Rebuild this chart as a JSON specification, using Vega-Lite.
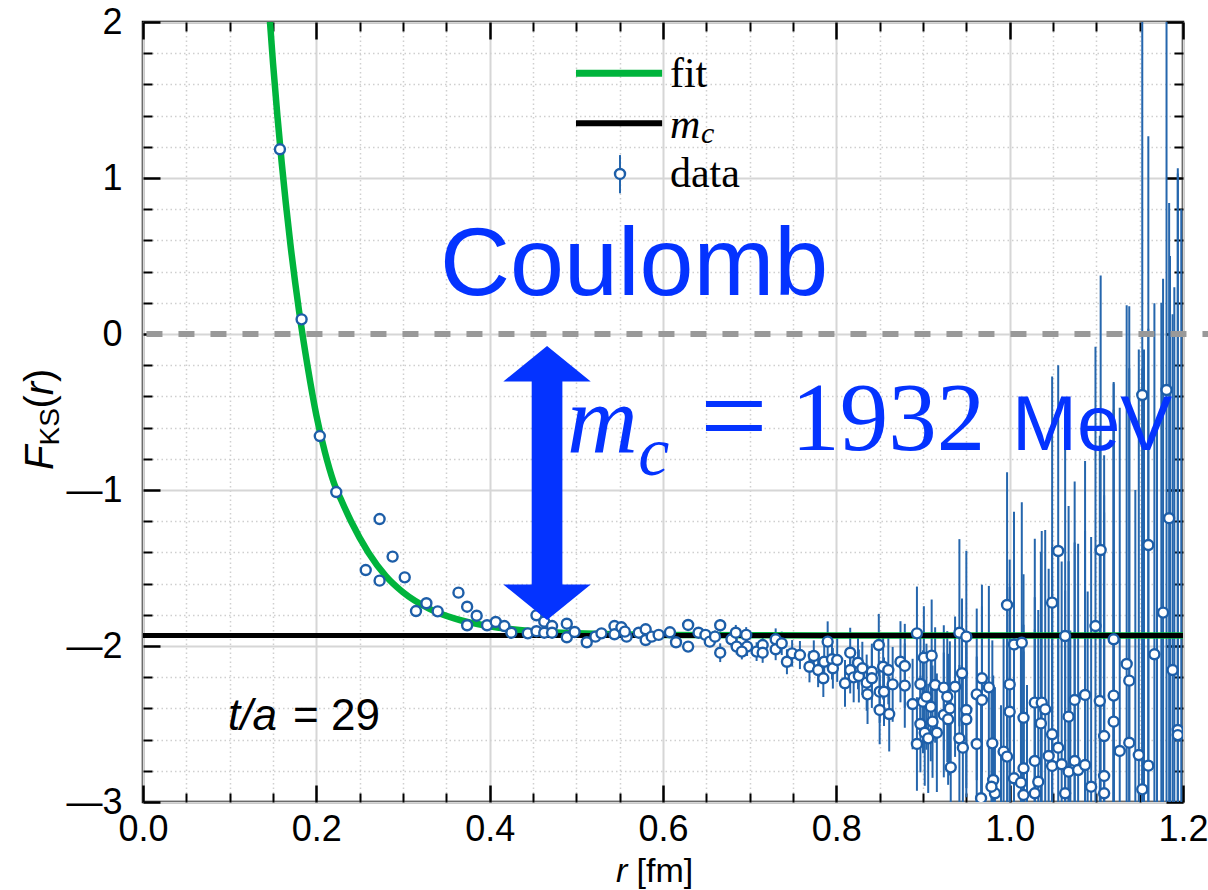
{
  "$schema": "https://vega.github.io/schema/vega-lite/v6.json",
  "width": 1040,
  "height": 780,
  "autosize": {"type": "none"},
  "padding": {"left": 143, "top": 22, "right": 25, "bottom": 88},
  "background": "white",
  "config": {
    "view": {"stroke": "black", "strokeWidth": 2.5},
    "font": "Liberation Sans"
  },
  "data": {"values": [{"one": 1}]},
  "datasets": {
    "fit": [
      {"r": 0.145, "F": 2.115}, {"r": 0.15, "F": 1.738}, {"r": 0.155, "F": 1.403}, {"r": 0.16, "F": 1.1},
      {"r": 0.17, "F": 0.58}, {"r": 0.18, "F": 0.15}, {"r": 0.19, "F": -0.21}, {"r": 0.2, "F": -0.52},
      {"r": 0.21, "F": -0.76}, {"r": 0.22, "F": -0.95}, {"r": 0.23, "F": -1.08}, {"r": 0.24, "F": -1.2},
      {"r": 0.26, "F": -1.4}, {"r": 0.28, "F": -1.55}, {"r": 0.3, "F": -1.655}, {"r": 0.33, "F": -1.76},
      {"r": 0.36, "F": -1.825}, {"r": 0.4, "F": -1.874}, {"r": 0.45, "F": -1.905}, {"r": 0.5, "F": -1.919},
      {"r": 0.6, "F": -1.929}, {"r": 0.8, "F": -1.932}, {"r": 1.2, "F": -1.932}
    ],
    "pts": [
      {"r": 0.158, "F": 1.184, "e": 0.01}, {"r": 0.183, "F": 0.094, "e": 0.01}, {"r": 0.204, "F": -0.654, "e": 0.01},
      {"r": 0.223, "F": -1.013, "e": 0.01}, {"r": 0.273, "F": -1.186, "e": 0.01}, {"r": 0.288, "F": -1.427, "e": 0.01},
      {"r": 0.257, "F": -1.513, "e": 0.01}, {"r": 0.273, "F": -1.581, "e": 0.01}, {"r": 0.302, "F": -1.56, "e": 0.01},
      {"r": 0.315, "F": -1.776, "e": 0.01}, {"r": 0.327, "F": -1.726, "e": 0.01}, {"r": 0.34, "F": -1.778, "e": 0.01},
      {"r": 0.364, "F": -1.658, "e": 0.01}, {"r": 0.374, "F": -1.748, "e": 0.01}, {"r": 0.374, "F": -1.867, "e": 0.01},
      {"r": 0.385, "F": -1.806, "e": 0.01}, {"r": 0.397, "F": -1.867, "e": 0.01}, {"r": 0.407, "F": -1.846, "e": 0.01},
      {"r": 0.417, "F": -1.872, "e": 0.01}, {"r": 0.425, "F": -1.915, "e": 0.01}, {"r": 0.444, "F": -1.919, "e": 0.01},
      {"r": 0.454, "F": -1.803, "e": 0.01}, {"r": 0.454, "F": -1.905, "e": 0.01}, {"r": 0.463, "F": -1.915, "e": 0.01},
      {"r": 0.463, "F": -1.844, "e": 0.01}, {"r": 0.472, "F": -1.872, "e": 0.01}, {"r": 0.472, "F": -1.915, "e": 0.01},
      {"r": 0.489, "F": -1.857, "e": 0.01}, {"r": 0.489, "F": -1.944, "e": 0.01}, {"r": 0.498, "F": -1.91, "e": 0.01},
      {"r": 0.512, "F": -1.976, "e": 0.01}, {"r": 0.522, "F": -1.94, "e": 0.015}, {"r": 0.529, "F": -1.919, "e": 0.015},
      {"r": 0.544, "F": -1.872, "e": 0.015}, {"r": 0.544, "F": -1.925, "e": 0.015}, {"r": 0.552, "F": -1.88, "e": 0.015},
      {"r": 0.558, "F": -1.94, "e": 0.02}, {"r": 0.556, "F": -1.908, "e": 0.02}, {"r": 0.572, "F": -1.915, "e": 0.02},
      {"r": 0.58, "F": -1.893, "e": 0.02}, {"r": 0.58, "F": -1.962, "e": 0.02}, {"r": 0.587, "F": -1.94, "e": 0.02},
      {"r": 0.595, "F": -1.929, "e": 0.02}, {"r": 0.608, "F": -1.912, "e": 0.025}, {"r": 0.615, "F": -1.976, "e": 0.025},
      {"r": 0.629, "F": -1.865, "e": 0.03}, {"r": 0.629, "F": -2.004, "e": 0.03}, {"r": 0.641, "F": -1.915, "e": 0.03},
      {"r": 0.649, "F": -1.929, "e": 0.035}, {"r": 0.654, "F": -1.972, "e": 0.035}, {"r": 0.66, "F": -1.94, "e": 0.04},
      {"r": 0.666, "F": -1.867, "e": 0.04}, {"r": 0.666, "F": -2.043, "e": 0.06}, {"r": 0.679, "F": -1.957, "e": 0.045},
      {"r": 0.684, "F": -1.915, "e": 0.05}, {"r": 0.685, "F": -2.004, "e": 0.05}, {"r": 0.696, "F": -1.929, "e": 0.05},
      {"r": 0.697, "F": -2.004, "e": 0.06}, {"r": 0.691, "F": -2.036, "e": 0.05}, {"r": 0.708, "F": -2.036, "e": 0.06},
      {"r": 0.715, "F": -1.994, "e": 0.06}, {"r": 0.715, "F": -2.043, "e": 0.065}, {"r": 0.73, "F": -1.957, "e": 0.07},
      {"r": 0.73, "F": -2.021, "e": 0.07}, {"r": 0.737, "F": -1.983, "e": 0.075}, {"r": 0.743, "F": -2.101, "e": 0.08},
      {"r": 0.749, "F": -2.047, "e": 0.085}, {"r": 0.758, "F": -2.058, "e": 0.09}, {"r": 0.769, "F": -2.133, "e": 0.1},
      {"r": 0.774, "F": -2.064, "e": 0.1}, {"r": 0.779, "F": -2.154, "e": 0.11}, {"r": 0.785, "F": -2.207, "e": 0.12},
      {"r": 0.786, "F": -2.101, "e": 0.12}, {"r": 0.79, "F": -1.972, "e": 0.13}, {"r": 0.795, "F": -2.085, "e": 0.13},
      {"r": 0.796, "F": -2.143, "e": 0.13}, {"r": 0.801, "F": -2.09, "e": 0.14}, {"r": 0.81, "F": -2.239, "e": 0.15},
      {"r": 0.816, "F": -2.043, "e": 0.16}, {"r": 0.816, "F": -2.154, "e": 0.15}, {"r": 0.82, "F": -2.201, "e": 0.16},
      {"r": 0.825, "F": -2.107, "e": 0.17}, {"r": 0.826, "F": -2.192, "e": 0.17}, {"r": 0.83, "F": -2.143, "e": 0.17},
      {"r": 0.835, "F": -2.235, "e": 0.18}, {"r": 0.836, "F": -2.31, "e": 0.19}, {"r": 0.841, "F": -2.165, "e": 0.18},
      {"r": 0.841, "F": -2.207, "e": 0.19}, {"r": 0.849, "F": -1.994, "e": 0.2}, {"r": 0.85, "F": -2.293, "e": 0.2},
      {"r": 0.85, "F": -2.41, "e": 0.22}, {"r": 0.854, "F": -2.133, "e": 0.21}, {"r": 0.855, "F": -2.293, "e": 0.22},
      {"r": 0.86, "F": -2.154, "e": 0.22}, {"r": 0.861, "F": -2.436, "e": 0.24}, {"r": 0.865, "F": -2.246, "e": 0.24},
      {"r": 0.874, "F": -2.101, "e": 0.26}, {"r": 0.879, "F": -2.128, "e": 0.27}, {"r": 0.879, "F": -2.254, "e": 0.27},
      {"r": 0.888, "F": -2.372, "e": 0.29}, {"r": 0.893, "F": -1.919, "e": 0.3}, {"r": 0.893, "F": -2.628, "e": 0.3},
      {"r": 0.897, "F": -2.244, "e": 0.32}, {"r": 0.897, "F": -2.5, "e": 0.31}, {"r": 0.901, "F": -2.075, "e": 0.33},
      {"r": 0.9, "F": -2.357, "e": 0.33}, {"r": 0.902, "F": -2.556, "e": 0.34}, {"r": 0.904, "F": -2.325, "e": 0.34},
      {"r": 0.91, "F": -2.062, "e": 0.36}, {"r": 0.909, "F": -2.389, "e": 0.35}, {"r": 0.911, "F": -2.485, "e": 0.36},
      {"r": 0.906, "F": -2.592, "e": 0.35}, {"r": 0.916, "F": -2.556, "e": 0.38}, {"r": 0.914, "F": -2.25, "e": 0.37},
      {"r": 0.924, "F": -2.267, "e": 0.4}, {"r": 0.924, "F": -2.442, "e": 0.4}, {"r": 0.928, "F": -2.325, "e": 0.42},
      {"r": 0.931, "F": -2.4, "e": 0.43}, {"r": 0.929, "F": -2.47, "e": 0.42}, {"r": 0.932, "F": -2.778, "e": 0.43},
      {"r": 0.937, "F": -2.261, "e": 0.45}, {"r": 0.942, "F": -1.915, "e": 0.6}, {"r": 0.942, "F": -2.592, "e": 0.47},
      {"r": 0.945, "F": -2.175, "e": 0.48}, {"r": 0.946, "F": -2.652, "e": 0.48}, {"r": 0.95, "F": -1.94, "e": 0.55},
      {"r": 0.95, "F": -2.41, "e": 0.5}, {"r": 0.95, "F": -2.47, "e": 0.5}, {"r": 0.962, "F": -2.31, "e": 0.55},
      {"r": 0.962, "F": -2.628, "e": 0.56}, {"r": 0.968, "F": -2.207, "e": 0.6}, {"r": 0.968, "F": -2.346, "e": 0.6},
      {"r": 0.976, "F": -2.265, "e": 0.65}, {"r": 0.98, "F": -2.624, "e": 0.66}, {"r": 0.967, "F": -2.976, "e": 0.6},
      {"r": 0.981, "F": -2.859, "e": 0.67}, {"r": 0.983, "F": -2.944, "e": 0.68}, {"r": 0.979, "F": -2.902, "e": 0.66},
      {"r": 0.993, "F": -2.677, "e": 0.75}, {"r": 0.997, "F": -2.709, "e": 0.77}, {"r": 0.997, "F": -1.737, "e": 0.85},
      {"r": 1.005, "F": -1.99, "e": 0.85}, {"r": 1.0, "F": -2.246, "e": 0.8}, {"r": 1.0, "F": -2.421, "e": 0.8},
      {"r": 1.014, "F": -1.979, "e": 0.9}, {"r": 1.016, "F": -2.46, "e": 0.92}, {"r": 1.016, "F": -2.784, "e": 0.92},
      {"r": 1.005, "F": -2.848, "e": 0.85}, {"r": 1.013, "F": -2.876, "e": 0.9}, {"r": 1.016, "F": -2.955, "e": 0.92},
      {"r": 1.056, "F": -1.391, "e": 1.19}, {"r": 1.049, "F": -1.722, "e": 1.45}, {"r": 1.029, "F": -2.363, "e": 1.05},
      {"r": 1.037, "F": -2.363, "e": 1.1}, {"r": 1.041, "F": -2.406, "e": 1.15}, {"r": 1.036, "F": -2.496, "e": 1.1},
      {"r": 1.049, "F": -2.566, "e": 1.2}, {"r": 1.056, "F": -2.652, "e": 1.25}, {"r": 1.045, "F": -2.705, "e": 1.2},
      {"r": 1.029, "F": -2.737, "e": 1.05}, {"r": 1.049, "F": -2.769, "e": 1.2}, {"r": 1.06, "F": -2.758, "e": 1.3},
      {"r": 1.068, "F": -2.806, "e": 1.35}, {"r": 1.075, "F": -2.737, "e": 1.4}, {"r": 1.079, "F": -2.795, "e": 1.45},
      {"r": 1.087, "F": -2.763, "e": 1.5}, {"r": 1.033, "F": -2.87, "e": 1.1}, {"r": 1.029, "F": -2.944, "e": 1.05},
      {"r": 1.064, "F": -2.944, "e": 1.3}, {"r": 1.064, "F": -1.936, "e": 1.35}, {"r": 1.068, "F": -2.453, "e": 1.35},
      {"r": 1.075, "F": -2.346, "e": 1.4}, {"r": 1.087, "F": -2.314, "e": 1.5}, {"r": 1.099, "F": -1.872, "e": 1.79},
      {"r": 1.105, "F": -1.385, "e": 1.76}, {"r": 1.104, "F": -2.353, "e": 1.7}, {"r": 1.109, "F": -2.577, "e": 1.8},
      {"r": 1.094, "F": -2.902, "e": 1.6}, {"r": 1.109, "F": -2.833, "e": 1.8}, {"r": 1.109, "F": -2.944, "e": 1.8},
      {"r": 1.12, "F": -1.957, "e": 1.65}, {"r": 1.12, "F": -2.318, "e": 2.0}, {"r": 1.12, "F": -2.485, "e": 2.0},
      {"r": 1.127, "F": -2.673, "e": 2.2}, {"r": 1.135, "F": -2.115, "e": 2.3}, {"r": 1.138, "F": -2.222, "e": 2.4},
      {"r": 1.138, "F": -2.62, "e": 2.4}, {"r": 1.149, "F": -2.699, "e": 2.6}, {"r": 1.153, "F": -2.919, "e": 2.7},
      {"r": 1.153, "F": -0.391, "e": 2.8}, {"r": 1.16, "F": -1.353, "e": 2.62}, {"r": 1.16, "F": -2.767, "e": 2.8},
      {"r": 1.167, "F": -2.053, "e": 2.25}, {"r": 1.177, "F": -1.786, "e": 2.14}, {"r": 1.184, "F": -1.181, "e": 2.02},
      {"r": 1.181, "F": -0.359, "e": 3.3}, {"r": 1.188, "F": -2.154, "e": 2.28}, {"r": 1.194, "F": -2.538, "e": 3.6},
      {"r": 1.194, "F": -2.571, "e": 3.6},
      {"r": 0.99, "F": -3.1, "e": 0.72}, {"r": 1.02, "F": -3.2, "e": 0.95}, {"r": 1.07, "F": -3.3, "e": 1.4},
      {"r": 1.09, "F": -3.25, "e": 1.6}, {"r": 1.12, "F": -3.4, "e": 2.0}, {"r": 1.145, "F": -3.6, "e": 2.6},
      {"r": 1.17, "F": -3.5, "e": 2.9}, {"r": 1.19, "F": -3.1, "e": 3.4}, {"r": 1.185, "F": -3.3, "e": 3.8},
      {"r": 1.198, "F": -3.2, "e": 4.0}, {"r": 1.175, "F": -3.4, "e": 3.6}, {"r": 1.155, "F": -3.3, "e": 3.2}
    ]
  },
  "layer": [
    {
      "data": {"name": "pts"},
      "mark": {"type": "errorbar", "color": "#2566ad", "thickness": 2, "clip": true},
      "encoding": {
        "x": {"field": "r", "type": "quantitative", "scale": {"domain": [0, 1.2], "nice": false, "zero": false}, "axis": null},
        "y": {"field": "F", "type": "quantitative", "scale": {"domain": [-3, 2], "nice": false, "zero": false}, "axis": null},
        "yError": {"field": "e"}
      }
    },
    {
      "mark": {"type": "rule", "color": "#999999", "strokeWidth": 6, "strokeDash": [16, 16], "clip": false},
      "encoding": {
        "x": {"datum": 0.004, "type": "quantitative", "axis": {
          "orient": "bottom", "values": [0.05, 0.1, 0.15, 0.25, 0.3, 0.35, 0.45, 0.5, 0.55, 0.65, 0.7, 0.75, 0.85, 0.9, 0.95, 1.05, 1.1, 1.15],
          "grid": true, "gridColor": "#cfcfcf", "gridDash": [1.5, 3], "gridWidth": 1.5,
          "tickSize": -9, "tickWidth": 2, "tickColor": "black", "labels": false, "domain": false, "title": null}},
        "x2": {"datum": 1.229},
        "y": {"datum": 0, "type": "quantitative", "axis": {
          "orient": "left", "values": [-2.8, -2.6, -2.4, -2.2, -1.8, -1.6, -1.4, -1.2, -0.8, -0.6, -0.4, -0.2, 0.2, 0.4, 0.6, 0.8, 1.2, 1.4, 1.6, 1.8],
          "grid": true, "gridColor": "#cfcfcf", "gridDash": [1.5, 3], "gridWidth": 1.5,
          "tickSize": -9, "tickWidth": 2, "tickColor": "black", "labels": false, "domain": false, "title": null}}
      }
    },
    {
      "data": {"name": "fit"},
      "mark": {"type": "line", "color": "#00b43c", "strokeWidth": 6.5, "interpolate": "monotone", "clip": true},
      "encoding": {
        "x": {"field": "r", "type": "quantitative", "axis": {
          "orient": "bottom", "values": [0, 0.2, 0.4, 0.6, 0.8, 1.0, 1.2], "format": ".1f",
          "grid": true, "gridColor": "#d6d6d6", "gridWidth": 2,
          "tickSize": -17, "tickWidth": 2.5, "tickColor": "black", "domain": false, "title": null,
          "labelFont": "Liberation Sans", "labelFontSize": 36, "labelColor": "black", "labelPadding": 27, "labelFlush": false}},
        "y": {"field": "F", "type": "quantitative", "axis": {
          "orient": "left", "values": [-3, -2, -1, 0, 1, 2], "format": "d",
          "labelExpr": "datum.value < 0 ? '\u2014' + abs(datum.value) : datum.label",
          "grid": true, "gridColor": "#d6d6d6", "gridWidth": 2,
          "tickSize": -17, "tickWidth": 2.5, "tickColor": "black", "domain": false, "title": null,
          "labelFont": "Liberation Sans", "labelFontSize": 36, "labelColor": "black", "labelPadding": 38, "labelFlush": false}}
      }
    },
    {
      "mark": {"type": "rule", "color": "black", "strokeWidth": 5},
      "encoding": {
        "x": {"datum": 0, "type": "quantitative", "axis": {
          "orient": "top", "values": [0, 0.2, 0.4, 0.6, 0.8, 1.0, 1.2], "grid": false,
          "tickSize": -17, "tickWidth": 2.5, "tickColor": "black", "labels": false, "domain": false, "title": null}},
        "x2": {"datum": 1.2},
        "y": {"datum": -1.932, "type": "quantitative", "axis": {
          "orient": "right", "values": [-3, -2, -1, 0, 1, 2], "grid": false,
          "tickSize": -17, "tickWidth": 2.5, "tickColor": "black", "labels": false, "domain": false, "title": null}}
      }
    },
    {
      "mark": {"type": "rule", "color": "#00b43c", "strokeWidth": 7},
      "encoding": {
        "x": {"datum": 0.4996, "type": "quantitative", "axis": {
          "orient": "top", "values": [0.05, 0.1, 0.15, 0.25, 0.3, 0.35, 0.45, 0.5, 0.55, 0.65, 0.7, 0.75, 0.85, 0.9, 0.95, 1.05, 1.1, 1.15],
          "grid": false, "tickSize": -9, "tickWidth": 2, "tickColor": "black", "labels": false, "domain": false, "title": null}},
        "x2": {"datum": 0.599},
        "y": {"datum": 1.671, "type": "quantitative", "axis": {
          "orient": "right", "values": [-2.8, -2.6, -2.4, -2.2, -1.8, -1.6, -1.4, -1.2, -0.8, -0.6, -0.4, -0.2, 0.2, 0.4, 0.6, 0.8, 1.2, 1.4, 1.6, 1.8],
          "grid": false, "tickSize": -9, "tickWidth": 2, "tickColor": "black", "labels": false, "domain": false, "title": null}}
      }
    },
    {
      "mark": {"type": "rule", "color": "black", "strokeWidth": 6},
      "encoding": {
        "x": {"datum": 0.4996, "type": "quantitative", "axis": null},
        "x2": {"datum": 0.599},
        "y": {"datum": 1.351, "type": "quantitative", "axis": null}
      }
    },
    {
      "mark": {"type": "rule", "color": "#2566ad", "strokeWidth": 2},
      "encoding": {
        "x": {"datum": 0.5504, "type": "quantitative", "axis": null},
        "y": {"datum": 0.902, "type": "quantitative", "axis": null},
        "y2": {"datum": 1.147}
      }
    },
    {
      "mark": {"type": "point", "shape": "circle", "filled": false, "fill": "white", "fillOpacity": 1, "stroke": "#1d5ea8", "strokeWidth": 2.4, "size": 100, "opacity": 1},
      "encoding": {
        "x": {"datum": 0.5504, "type": "quantitative", "axis": null},
        "y": {"datum": 1.026, "type": "quantitative", "axis": null}
      }
    },
    {
      "data": {"name": "pts"},
      "mark": {"type": "point", "shape": "circle", "filled": false, "fill": "white", "fillOpacity": 1, "stroke": "#1d5ea8", "strokeWidth": 2.4, "size": 100, "opacity": 1, "clip": true},
      "encoding": {
        "x": {"field": "r", "type": "quantitative", "axis": null},
        "y": {"field": "F", "type": "quantitative", "axis": null}
      }
    },
    {
      "mark": {"type": "point", "filled": true, "color": "#0433ff", "opacity": 1, "strokeWidth": 0, "size": 75076,
        "shape": "M0,-1L0.319,-0.741L0.112,-0.741L0.112,0.741L0.319,0.741L0,1L-0.319,0.741L-0.112,0.741L-0.112,-0.741L-0.319,-0.741Z"},
      "encoding": {
        "x": {"datum": 0.4662, "type": "quantitative", "axis": null},
        "y": {"datum": -0.955, "type": "quantitative", "axis": null}
      }
    },
    {
      "mark": {"type": "text", "text": "Coulomb", "font": "Liberation Sans", "fontSize": 97, "color": "#0433ff", "align": "left", "baseline": "alphabetic"},
      "encoding": {"x": {"datum": 0.3427, "type": "quantitative", "axis": null}, "y": {"datum": 0.25, "type": "quantitative", "axis": null}}
    },
    {
      "mark": {"type": "text", "text": "m", "font": "Liberation Serif", "fontStyle": "italic", "fontSize": 98, "color": "#0433ff", "align": "left", "baseline": "alphabetic"},
      "encoding": {"x": {"datum": 0.4892, "type": "quantitative", "axis": null}, "y": {"datum": -0.756, "type": "quantitative", "axis": null}}
    },
    {
      "mark": {"type": "text", "text": "c", "font": "Liberation Serif", "fontStyle": "italic", "fontSize": 70, "color": "#0433ff", "align": "left", "baseline": "alphabetic"},
      "encoding": {"x": {"datum": 0.5715, "type": "quantitative", "axis": null}, "y": {"datum": -0.904, "type": "quantitative", "axis": null}}
    },
    {
      "mark": {"type": "text", "text": "=", "font": "Liberation Serif", "fontSize": 120, "color": "#0433ff", "align": "left", "baseline": "alphabetic"},
      "encoding": {"x": {"datum": 0.6427, "type": "quantitative", "axis": null}, "y": {"datum": -0.78, "type": "quantitative", "axis": null}}
    },
    {
      "mark": {"type": "text", "text": "1932", "font": "Liberation Serif", "fontSize": 97, "color": "#0433ff", "align": "left", "baseline": "alphabetic"},
      "encoding": {"x": {"datum": 0.7481, "type": "quantitative", "axis": null}, "y": {"datum": -0.744, "type": "quantitative", "axis": null}}
    },
    {
      "mark": {"type": "text", "text": "MeV", "font": "Liberation Sans", "fontSize": 78, "color": "#0433ff", "align": "left", "baseline": "alphabetic"},
      "encoding": {"x": {"datum": 1.0027, "type": "quantitative", "axis": null}, "y": {"datum": -0.744, "type": "quantitative", "axis": null}}
    },
    {
      "mark": {"type": "text", "text": "fit", "font": "Liberation Serif", "fontSize": 42, "color": "black", "align": "left", "baseline": "alphabetic"},
      "encoding": {"x": {"datum": 0.608, "type": "quantitative", "axis": null}, "y": {"datum": 1.585, "type": "quantitative", "axis": null}}
    },
    {
      "mark": {"type": "text", "text": "m", "font": "Liberation Serif", "fontStyle": "italic", "fontSize": 42, "color": "black", "align": "left", "baseline": "alphabetic"},
      "encoding": {"x": {"datum": 0.608, "type": "quantitative", "axis": null}, "y": {"datum": 1.256, "type": "quantitative", "axis": null}}
    },
    {
      "mark": {"type": "text", "text": "c", "font": "Liberation Serif", "fontStyle": "italic", "fontSize": 30, "color": "black", "align": "left", "baseline": "alphabetic"},
      "encoding": {"x": {"datum": 0.6438, "type": "quantitative", "axis": null}, "y": {"datum": 1.224, "type": "quantitative", "axis": null}}
    },
    {
      "mark": {"type": "text", "text": "data", "font": "Liberation Serif", "fontSize": 42, "color": "black", "align": "left", "baseline": "alphabetic"},
      "encoding": {"x": {"datum": 0.608, "type": "quantitative", "axis": null}, "y": {"datum": 0.944, "type": "quantitative", "axis": null}}
    },
    {
      "mark": {"type": "text", "text": "t/a", "font": "Liberation Sans", "fontStyle": "italic", "fontSize": 44, "color": "black", "align": "left", "baseline": "alphabetic"},
      "encoding": {"x": {"datum": 0.0981, "type": "quantitative", "axis": null}, "y": {"datum": -2.538, "type": "quantitative", "axis": null}}
    },
    {
      "mark": {"type": "text", "text": "= 29", "font": "Liberation Sans", "fontSize": 44, "color": "black", "align": "left", "baseline": "alphabetic"},
      "encoding": {"x": {"datum": 0.1731, "type": "quantitative", "axis": null}, "y": {"datum": -2.538, "type": "quantitative", "axis": null}}
    },
    {
      "mark": {"type": "text", "text": "r", "font": "Liberation Sans", "fontStyle": "italic", "fontSize": 34, "color": "black", "align": "left", "baseline": "alphabetic"},
      "encoding": {"x": {"datum": 0.5458, "type": "quantitative", "axis": null}, "y": {"datum": -3.513, "type": "quantitative", "axis": null}}
    },
    {
      "mark": {"type": "text", "text": "[fm]", "font": "Liberation Sans", "fontSize": 34, "color": "black", "align": "left", "baseline": "alphabetic"},
      "encoding": {"x": {"datum": 0.5695, "type": "quantitative", "axis": null}, "y": {"datum": -3.513, "type": "quantitative", "axis": null}}
    },
    {
      "mark": {"type": "text", "text": "F", "font": "Liberation Sans", "fontStyle": "italic", "fontSize": 40, "color": "black", "align": "left", "baseline": "alphabetic", "angle": 270},
      "encoding": {"x": {"datum": -0.1038, "type": "quantitative", "axis": null}, "y": {"datum": -0.872, "type": "quantitative", "axis": null}}
    },
    {
      "mark": {"type": "text", "text": "KS", "font": "Liberation Sans", "fontSize": 28, "color": "black", "align": "left", "baseline": "alphabetic", "angle": 270},
      "encoding": {"x": {"datum": -0.0969, "type": "quantitative", "axis": null}, "y": {"datum": -0.715, "type": "quantitative", "axis": null}}
    },
    {
      "mark": {"type": "text", "text": "(", "font": "Liberation Sans", "fontSize": 40, "color": "black", "align": "left", "baseline": "alphabetic", "angle": 270},
      "encoding": {"x": {"datum": -0.1038, "type": "quantitative", "axis": null}, "y": {"datum": -0.478, "type": "quantitative", "axis": null}}
    },
    {
      "mark": {"type": "text", "text": "r", "font": "Liberation Sans", "fontStyle": "italic", "fontSize": 40, "color": "black", "align": "left", "baseline": "alphabetic", "angle": 270},
      "encoding": {"x": {"datum": -0.1038, "type": "quantitative", "axis": null}, "y": {"datum": -0.393, "type": "quantitative", "axis": null}}
    },
    {
      "mark": {"type": "text", "text": ")", "font": "Liberation Sans", "fontSize": 40, "color": "black", "align": "left", "baseline": "alphabetic", "angle": 270},
      "encoding": {"x": {"datum": -0.1038, "type": "quantitative", "axis": null}, "y": {"datum": -0.308, "type": "quantitative", "axis": null}}
    }
  ],
  "resolve": {"axis": {"x": "independent", "y": "independent"}}
}
